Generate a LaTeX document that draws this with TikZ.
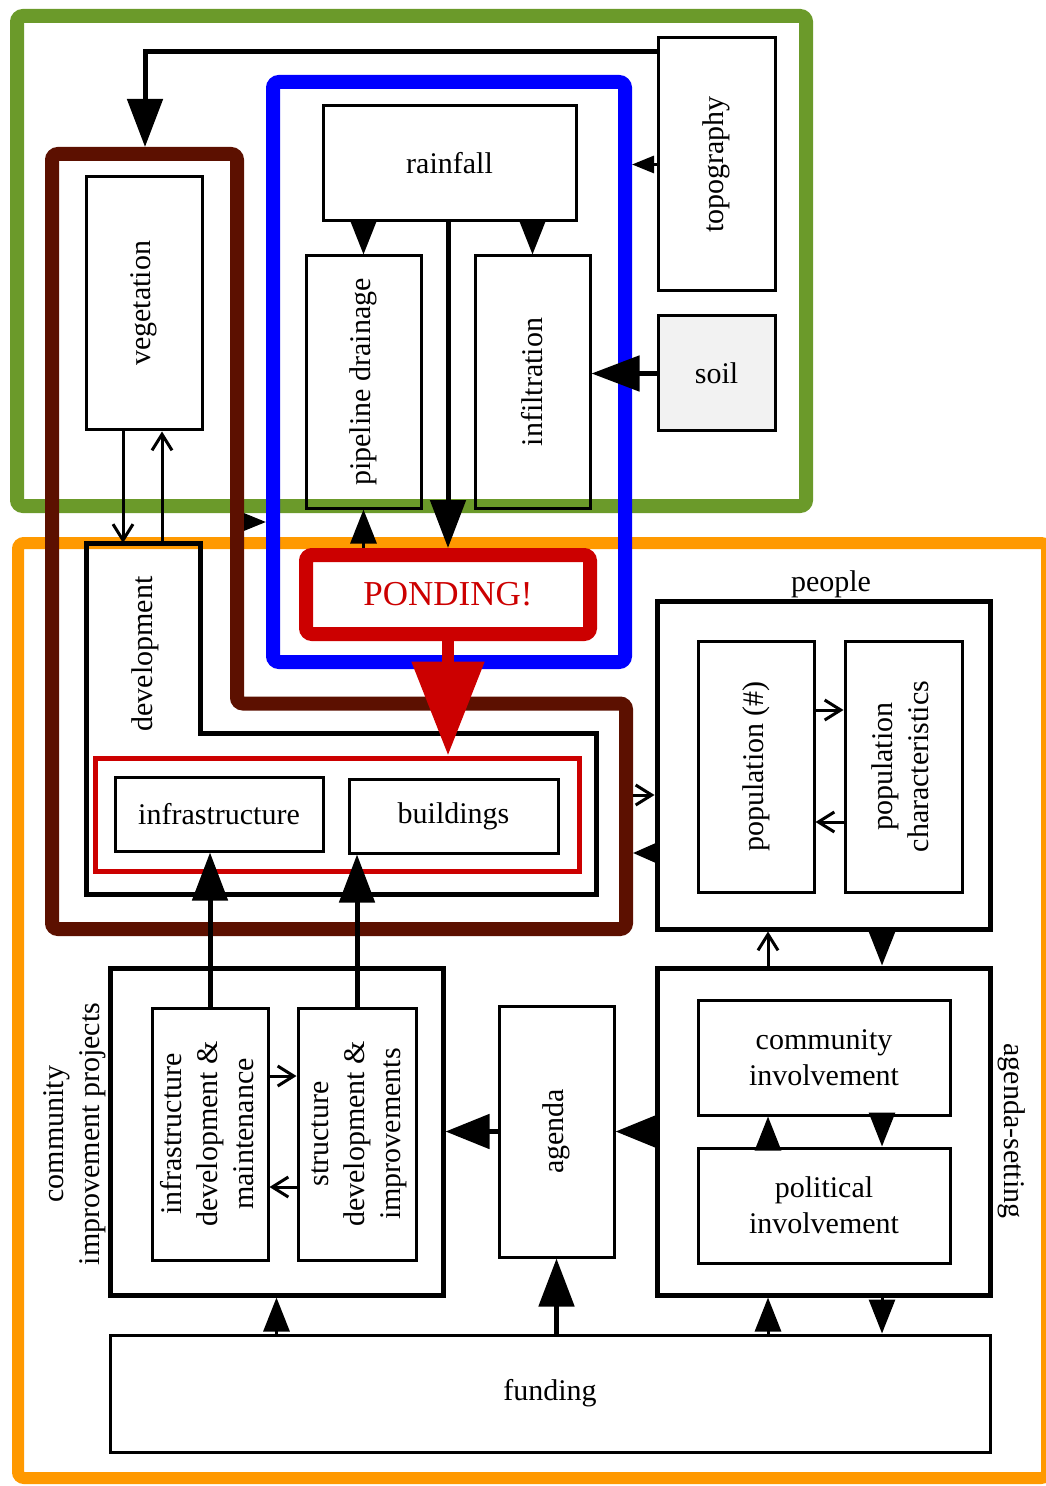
\documentclass[tikz,border=0pt]{standalone}
\usepackage{fontspec}
\setmainfont{Liberation Serif}
\usetikzlibrary{arrows.meta,calc}
\definecolor{frgreen}{RGB}{107,154,42}
\definecolor{frorange}{RGB}{255,153,0}
\definecolor{frbrown}{RGB}{92,16,0}
\definecolor{frblue}{RGB}{0,0,255}
\definecolor{frred}{RGB}{204,0,0}
\definecolor{soilgray}{RGB}{242,242,242}

\begin{document}
\begin{tikzpicture}[x=0.5pt,y=-0.5pt,
  font=\fontsize{15}{18}\selectfont,
  wh/.style 2 args={minimum width=#1*0.5pt, minimum height=#2*0.5pt},
  bx/.style={draw, line width=1.5pt, inner sep=0pt, align=center},
  grp/.style={draw, line width=2.5pt, inner sep=0pt},
  bandline/.style={line width=7pt, rounded corners=3pt},
  thinarr/.style={line width=1.5pt, -{Straight Barb[length=8pt,width=10pt]}},
  tipT/.style n args={3}{line width=#1, -{Triangle[length=#2,width=#3]}},
  bigtip/.style={tipT={2.5pt}{24pt}{17.5pt}},
  midtip/.style={tipT={1.5pt}{17pt}{13pt}},
  smalltip/.style={tipT={1.5pt}{11pt}{8.5pt}},
]
\useasboundingbox (0,0) rectangle (1045,1486);

% ---- outer frames ----
\draw[frgreen, bandline] (17,16) rectangle (806,506);
\draw[frorange, line width=6pt, rounded corners=3pt] (18,543) rectangle (1047,1478);

% ---- physical boxes ----
\node[bx, wh={117}{253}] (topo) at (716.5,164.5) {\rotatebox{90}{topography}};
\node[bx, wh={117}{115}, fill=soilgray] (soil) at (716.5,373.5) {soil};
\node[bx, wh={116}{253}] (veg) at (144,303.5) {\rotatebox{90}{vegetation}};

% ---- development (L-shaped) ----
\draw[grp] (86,543) -- (200,543) -- (200,733) -- (596,733) -- (596,894) -- (86,894) -- cycle;
\node[rotate=90] (devlabel) at (145,654) {development};
\node[draw=frred, line width=2.5pt, inner sep=0pt, wh={484}{113}] (dmg) at (337,814.5) {};
\node[bx, wh={208}{74}] (infra) at (219,814) {infrastructure};
\node[bx, wh={209}{74}] (bldg) at (453.5,816) {buildings};

% ---- brown band round vegetation and development ----
\coordinate (b1) at (52,154);
\coordinate (b2) at (237,154);
\coordinate (b3) at (237,703.5);
\coordinate (b4) at (626,703.5);
\coordinate (b5) at (626,929);
\coordinate (b6) at (52,929);
\draw[frbrown, bandline] (b1) -- (b2) -- (b3) -- (b4) -- (b5) -- (b6) -- cycle;
\coordinate (brTop) at (145,147);
\coordinate (brRa) at (633,795);
\coordinate (brRb) at (633,853);
\coordinate (brBl) at (244,522);

% ---- hydrology (blue band) ----
\node[draw=frblue, line width=7pt, inner sep=0pt, rounded corners=3pt, wh={352}{580}] (blue) at (449,372) {};
\node[bx, wh={253}{115}] (rain) at (449.5,163.5) {rainfall};
\node[bx, wh={115}{252}] (pipe) at (363.5,382) {\rotatebox{90}{pipeline drainage}};
\node[bx, wh={115}{252}] (infil) at (532.5,382) {\rotatebox{90}{infiltration}};
\node[draw=frred, line width=7pt, inner sep=0pt, rounded corners=3pt, wh={284}{79},
      text=frred, font=\fontsize{17.5}{21}\selectfont] (pond) at (448,594.5) {PONDING!};

% ---- people ----
\node[grp, wh={333}{328}] (people) at (823.5,765) {};
\node (peoplelabel) at (831,584) {people};
\node[bx, wh={116}{251}] (pop) at (756,766.5) {\rotatebox{90}{population (\#)}};
\node[bx, wh={117}{251}] (popchar) at (903.5,766.5)
  {\rotatebox{90}{\begin{tabular}{@{}c@{}}population\\characteristics\end{tabular}}};

% ---- agenda-setting ----
\node[grp, wh={333}{327}] (agset) at (823.5,1131.5) {};
\node[rotate=-90] (agsetlabel) at (1012,1131) {agenda-setting};
\node[bx, wh={252}{115}] (comm) at (824,1057.5) {community\\involvement};
\node[bx, wh={252}{115}] (pol) at (824,1205.5) {political\\involvement};
\node[bx, wh={115}{251}] (agenda) at (556.5,1131.5) {\rotatebox{90}{agenda}};

% ---- community improvement projects ----
\node[grp, wh={333}{327}] (cip) at (276.5,1131.5) {};
\node[rotate=90, align=center] (ciplabel) at (75,1134) {community\\improvement projects};
\node[bx, wh={116}{252}] (idm) at (210,1134)
  {\rotatebox{90}{\begin{tabular}{@{}c@{}}infrastructure\\development \&\\maintenance\end{tabular}}};
\node[bx, wh={118}{252}] (sdi) at (357,1134)
  {\rotatebox{90}{\begin{tabular}{@{}c@{}}structure\\development \&\\improvements\end{tabular}}};

% ---- funding ----
\node[bx, wh={880}{117}] (fund) at (550,1393.5) {funding};

% ---- guide lines for parallel connectors ----
\coordinate (cL) at (768,0);
\coordinate (cR) at (882,0);
\coordinate (vA) at (123,543);
\coordinate (vB) at (162,543);
\coordinate (pA) at (0,710);
\coordinate (pB) at (0,822);
\coordinate (sA) at (0,1076);
\coordinate (sB) at (0,1187);

% ---- connectors: physical side ----
\draw[bigtip] ($(topo.north west)+(0,15)$) -| (brTop);
\draw[smalltip] (topo.west) -- (topo.west -| blue.east);
\draw[bigtip] (soil.west) -- (soil.west -| infil.east);
\draw[midtip] (rain.south -| pipe.north) -- (pipe.north);
\draw[midtip] (rain.south -| infil.north) -- (infil.north);
\draw[bigtip] (rain.south -| pond.north) -- (pond.north);
\draw[midtip] (pond.north -| pipe.south) -- (pipe.south);
\draw[thinarr] (veg.south -| vA) -- (vA);
\draw[thinarr] (vB) -- (vB |- veg.south);
\draw[smalltip] (brBl) -- (brBl -| blue.west);
\draw[frred, line width=6pt, -{Triangle[length=47pt,width=35pt]}] (pond.south) -- (pond.south |- dmg.north);

% ---- connectors: people ----
\draw[thinarr] (brRa) -- (brRa -| people.west);
\draw[tipT={1.5pt}{13pt}{11pt}] (people.west |- brRb) -- (brRb);
\draw[thinarr] (pop.east |- pA) -- (popchar.west |- pA);
\draw[thinarr] (popchar.west |- pB) -- (pop.east |- pB);
\draw[thinarr] (agset.north -| cL) -- (people.south -| cL);
\draw[midtip] (people.south -| cR) -- (agset.north -| cR);

% ---- connectors: agenda-setting and projects ----
\draw[midtip] (pol.north -| cL) -- (comm.south -| cL);
\draw[midtip] (comm.south -| cR) -- (pol.north -| cR);
\draw[tipT={2.5pt}{20pt}{15.5pt}] (agset.west) -- (agenda.east);
\draw[tipT={2.5pt}{22pt}{17pt}] (agenda.west) -- (cip.east);
\draw[bigtip] (fund.north -| agenda.south) -- (agenda.south);
\draw[midtip] (fund.north -| cip.south) -- (cip.south);
\draw[midtip] (fund.north -| cL) -- (agset.south -| cL);
\draw[midtip] (agset.south -| cR) -- (fund.north -| cR);
\draw[bigtip] (idm.north) -- (idm.north |- infra.south);
\draw[bigtip] (sdi.north) -- (sdi.north |- bldg.south);
\draw[thinarr] (idm.east |- sA) -- (sdi.west |- sA);
\draw[thinarr] (sdi.west |- sB) -- (idm.east |- sB);
\end{tikzpicture}
\end{document}
